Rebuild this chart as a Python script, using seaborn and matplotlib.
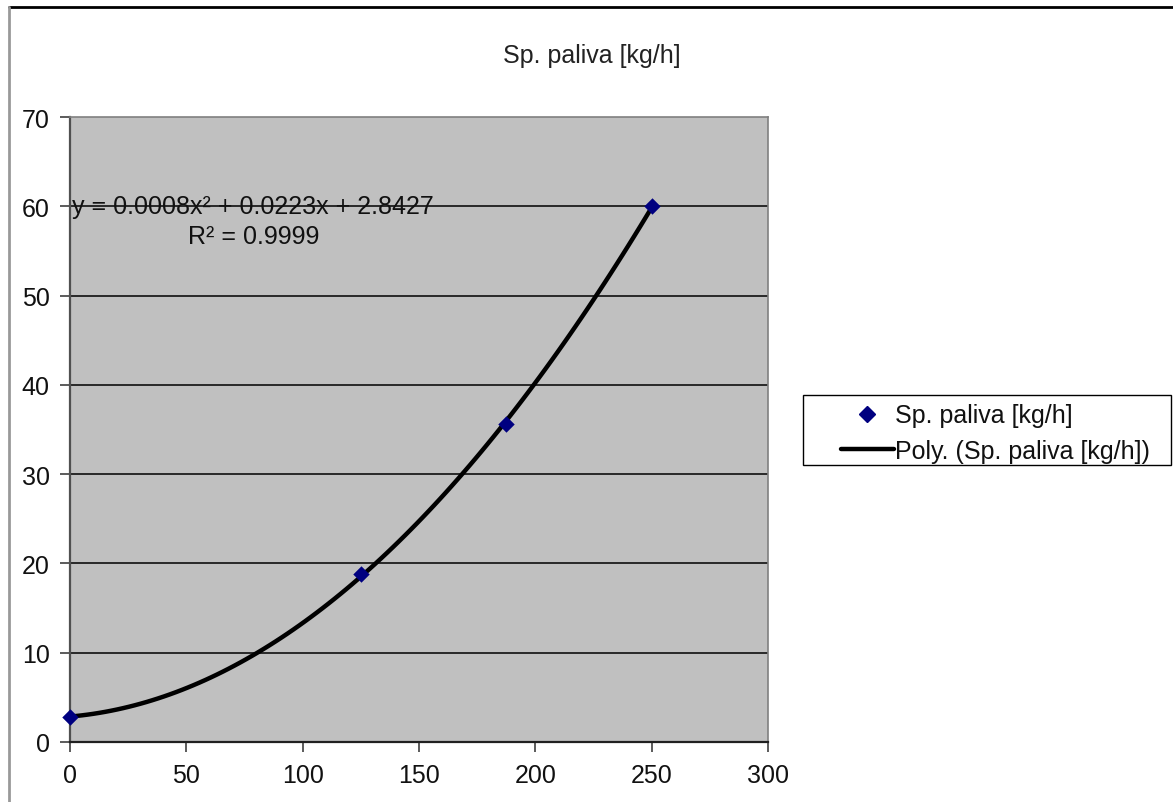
import matplotlib
matplotlib.use("Agg")
import matplotlib.pyplot as plt
import seaborn as sns
import pandas as pd
from matplotlib.lines import Line2D
from matplotlib.patches import Rectangle

# Data
x_vals = [0, 125, 187.5, 250]
y_vals = [2.8, 18.8, 35.6, 60.0]
series_label = "Sp. paliva [kg/h]"
trend_label = "Poly. (Sp. paliva [kg/h])"
title_text = "Sp. paliva [kg/h]"
eq_text = "y = 0.0008x² + 0.0223x + 2.8427"
r2_text = "R² = 0.9999"
x_ticks = [0, 50, 100, 150, 200, 250, 300]
y_ticks = [0, 10, 20, 30, 40, 50, 60, 70]

df = pd.DataFrame({"x": x_vals, "y": y_vals})

sns.set_theme(style="white")
plt.rcParams["font.family"] = ["Liberation Sans", "DejaVu Sans"]

fig = plt.figure(figsize=(11.73, 8.03), dpi=100)
fig.patch.set_facecolor("white")
ax = fig.add_axes([70 / 1173, 1 - 743 / 803, 698 / 1173, 625 / 803])
ax.set_facecolor("#C0C0C0")

sns.regplot(data=df, x="x", y="y", order=2, ci=None, scatter=False, ax=ax,
            line_kws=dict(color="black", lw=3.2, zorder=3, solid_capstyle="butt"))
sns.scatterplot(data=df, x="x", y="y", marker="D", s=70, color="#000080",
                edgecolor="#000080", linewidth=0, ax=ax, zorder=4, clip_on=False)

ax.set_xlim(0, 300)
ax.set_ylim(0, 70)
ax.set_xticks(x_ticks)
ax.set_yticks(y_ticks)
ax.set_xlabel("")
ax.set_ylabel("")
for yv in y_ticks[1:-1]:
    ax.axhline(yv, color="black", lw=1.1, zorder=1)

ax.tick_params(axis="both", direction="out", length=7, width=1.2, color="#404040",
               labelsize=18, labelcolor="#111111", pad=7.5)
ax.tick_params(axis="x", pad=8)
ax.tick_params(left=True, bottom=True)
for side in ["top", "right"]:
    ax.spines[side].set_color("#808080")
    ax.spines[side].set_linewidth(1.2)
ax.spines["left"].set_color("#505050")
ax.spines["left"].set_linewidth(1.6)
ax.spines["bottom"].set_color("#202020")
ax.spines["bottom"].set_linewidth(1.6)

# Trendline equation
ax.text(1.0, 60, eq_text, fontsize=18, color="#111111",
        ha="left", va="center", zorder=5)
ax.text(79, 56.7, r2_text, fontsize=18, color="#111111",
        ha="center", va="center", zorder=5)

fig.text(592 / 1173, 1 - 56 / 803, title_text, fontsize=18, color="#222222",
         ha="center", va="center")

# Legend box and legend
fig.add_artist(Rectangle((803 / 1173, 1 - 466 / 803), 368 / 1173, 70 / 803,
                         transform=fig.transFigure, facecolor="white",
                         edgecolor="black", lw=1.0, zorder=-1))
handles = [
    Line2D([], [], marker="D", color="#000080", linestyle="none", markersize=8),
    Line2D([], [], color="black", lw=3.2),
]
leg = fig.legend(handles, [series_label, trend_label], loc="center left",
                 bbox_to_anchor=(841 / 1173, 1 - 434 / 803),
                 bbox_transform=fig.transFigure, fontsize=18, frameon=False,
                 borderaxespad=0, borderpad=0,
                 handlelength=2.1, handletextpad=0.05, labelspacing=0.45)
leg.set_zorder(5)
for t in leg.get_texts():
    t.set_color("#111111")

# outer chart border
fig.add_artist(Line2D([9 / 1173, 1], [1 - 8 / 803, 1 - 8 / 803], color="black",
                      lw=2, transform=fig.transFigure))
fig.add_artist(Line2D([9 / 1173, 9 / 1173], [0, 1 - 8 / 803], color="#999999",
                      lw=2, transform=fig.transFigure))

fig.savefig("out.png", dpi=100, facecolor="white")
